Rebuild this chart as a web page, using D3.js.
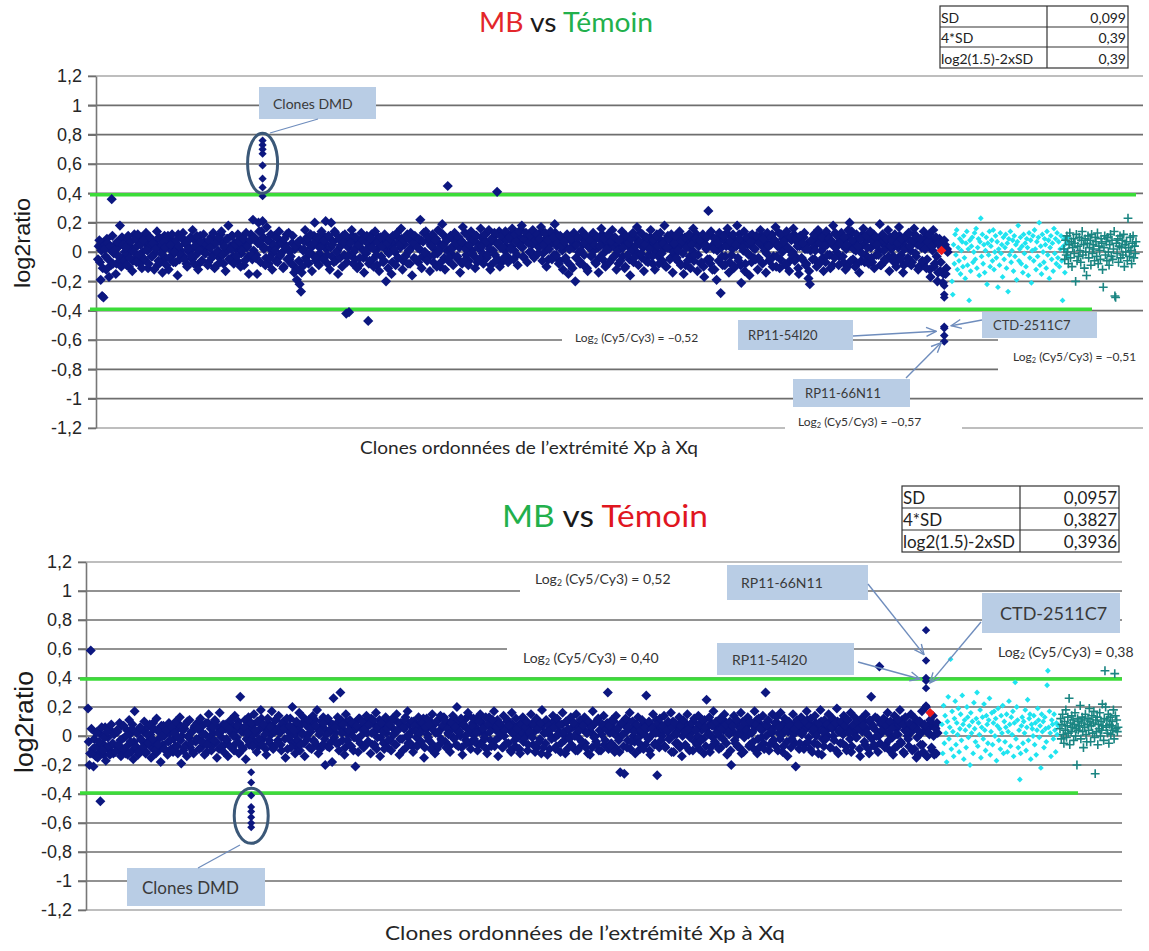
<!DOCTYPE html>
<html>
<head>
<meta charset="utf-8">
<script src="https://cdn.jsdelivr.net/npm/d3@7"></script>
<style>
  body { margin: 0; background: #fff; }
  svg { display: block; }
</style>
</head>
<body>
<svg id="chart" width="1149" height="951"></svg>
<script>
// ---------- shared ----------
const yTicks = [1.2, 1, 0.8, 0.6, 0.4, 0.2, 0, -0.2, -0.4, -0.6, -0.8, -1, -1.2];
const statLabels = ["SD", "4*SD", "log2(1.5)-2xSD"];

// ---------- MB vs Témoin (top) ----------
// spot A of each X clone, ordered Xp -> Xq
const topBlue = [
-.05,.08,-.19,-.30,-.31,.02,-.12,.06,-.17,.04,.36,-.08,.01,-.15,.07,-.03,.18,-.10,.05,-.06,
.03,-.09,.11,-.04,.07,-.13,.00,.09,-.07,.12,-.02,.05,-.11,.08,-.05,.13,.01,-.08,.10,-.03,
.06,-.12,.02,.14,-.06,.09,-.01,-.14,.07,.03,-.09,.11,-.04,.05,.12,-.07,.00,.08,-.16,.04,
-.02,.10,.13,-.05,.06,-.10,.02,.09,-.03,.15,-.08,.04,.11,-.12,.01,.07,-.06,.12,-.01,.05,
-.09,.08,.03,-.04,.13,-.11,.06,.00,.10,-.07,.14,-.02,.04,-.13,.09,.18,-.05,.02,.11,-.08,
.05,-.03,.12,.07,-.10,.01,.09,-.06,.13,.04,-.15,.08,-.02,.22,.10,-.04,-.15,.20,.06,.14,
.21,.02,-.09,.17,.08,-.04,.12,-.12,.05,.01,.10,-.07,.14,-.02,.06,-.11,.09,.03,-.05,.13,
.00,-.08,.11,-.14,.04,-.19,.07,-.22,-.27,-.10,.02,.15,-.06,.09,-.01,.12,-.13,.06,.20,-.04,
.10,-.09,.03,.14,-.05,.08,.21,-.02,.11,-.12,.20,.05,-.07,.13,.00,-.15,.09,.04,-.10,.07,
.12,-.42,-.03,-.41,.06,.15,-.08,.02,.10,-.11,.05,-.04,.13,.08,-.14,.01,.11,-.47,-.06,.09,
.03,-.10,.14,-.02,.07,-.13,.10,.04,-.07,.12,-.20,.06,-.01,.09,-.15,.11,.02,-.09,.13,-.04,
.05,.16,-.12,.08,-.03,.10,-.08,.01,.13,-.16,.06,.11,-.05,.03,.09,.22,-.11,.07,.00,.14,
-.06,.10,-.13,.04,.12,-.02,.08,-.10,.15,.01,-.07,.19,.05,-.12,.09,.45,-.04,.11,.02,-.09,
.13,.06,-.03,.10,-.14,.07,.17,-.06,.02,.12,-.09,.05,.14,-.01,.08,-.11,.11,.03,-.05,.16,
.04,-.08,.12,.07,-.02,.15,-.12,.09,.01,.13,-.06,.41,.06,-.10,.11,.03,-.04,.14,.08,-.07,
.10,.02,.16,-.05,.12,.07,-.09,.14,.04,.18,-.03,.09,.13,-.07,.06,.11,.00,.15,-.04,.08,
.12,-.01,.09,.17,-.06,.05,.13,-.10,.08,.02,.14,-.05,.10,.19,-.02,.06,-.08,.11,.04,-.12,
.07,-.04,.12,-.15,.02,.09,-.11,.13,-.20,.05,.10,-.06,.01,.14,-.09,.06,.11,-.13,.03,.08,
-.02,.13,.05,-.08,.10,-.14,.04,.16,-.05,.09,-.10,.02,.12,-.07,.07,.15,-.03,.10,-.12,.01,
.08,-.06,.14,.03,-.11,.11,-.02,.06,-.16,.09,.13,-.04,.04,.17,-.09,.07,-.01,.12,-.13,.05,
.10,-.07,.02,.15,-.03,.08,-.12,.11,.04,-.08,.13,-.01,.06,.18,-.10,.03,.09,-.05,.12,-.14,
.06,.11,-.04,.01,.14,-.09,.07,-.15,.10,.03,-.06,.12,-.11,.05,.16,-.02,.09,-.13,.04,.08,
-.07,.12,-.17,.05,.10,.28,-.05,.14,-.12,.02,.09,-.19,.06,.13,-.28,-.03,.11,-.09,.04,.16,
-.14,.07,-.02,.12,-.10,.05,.18,-.06,.09,-.21,.03,.14,-.08,.10,-.01,-.16,.07,.12,-.04,.02,
.11,-.12,.06,.15,-.07,.09,.01,-.14,.13,.04,-.05,.10,-.10,.08,.17,-.03,.05,-.11,.12,.00,
.07,-.08,.14,.03,-.13,.10,-.02,.16,-.06,.09,.04,-.15,.11,-.04,.06,.13,-.09,.02,-.18,-.22,
.08,-.05,.12,.01,-.10,.15,.06,-.07,.10,-.13,.04,.14,-.02,.09,-.11,.07,.18,-.04,.03,.11,
-.09,.06,.13,-.03,.10,-.12,.05,.15,.20,-.06,.08,.02,-.10,.12,.04,-.14,.09,-.01,.16,-.07,
.11,.03,-.08,.14,-.04,.07,-.11,.10,.05,-.02,.19,-.09,.12,.01,-.06,.09,.15,-.13,.04,.08,
-.03,.12,-.10,.06,.17,-.05,.09,-.14,.02,.11,-.07,.13,.04,-.09,.08,.16,-.01,.10,-.12,.05,
.09,-.06,.14,.02,-.11,.07,.12,-.17,.04,.15,-.08,.10,-.20,.06,-.13,.03,-.21,.08,-.15,.02
];
// spot B (duplicate spot) of the same clones
const topBlueDup = [
.04,-.07,.01,-.11,.06,-.03,.09,-.05,.02,-.09,.11,-.01,.05,-.08,.03,.07,-.04,.10,-.06,.00,
-.02,.08,-.10,.04,.01,-.06,.12,.03,-.04,.07,-.08,.10,.00,-.05,.06,.02,-.11,.09,.04,-.03,
.07,-.01,.05,-.09,.10,.03,-.06,.01,.11,-.04,.06,-.12,.02,.08,-.02,.05,-.07,.03,.12,-.05,
.01,.09,-.03,.06,-.08,.04,.00,.10,-.05,.03,.08,-.02,-.09,.05,.11,-.06,.02,.07,-.01,.04,
-.07,.03,.10,-.02,.05,-.10,.08,.01,-.04,.12,.06,-.08,.03,.00,.09,-.05,.04,.11,-.03,.06,
.02,-.06,.08,.04,-.01,.10,-.09,.05,.03,-.03,.07,.12,-.05,.01,.09,-.02,.06,.14,-.07,.04,
.10,.03,-.04,.08,-.08,.02,.06,-.01,.11,-.06,.04,.09,-.03,.07,.00,-.10,.05,.12,.02,-.05,
-.03,.06,-.09,.02,-.12,.04,-.06,.08,-.14,.01,.07,-.04,.10,-.08,.05,.03,-.02,.11,-.06,.09,
.04,-.01,.08,.12,-.05,.06,.02,-.08,.10,.03,-.03,.07,.14,-.06,.01,.09,-.04,.05,.11,-.02,
.06,-.07,.03,.09,-.02,.11,.00,-.05,.07,.04,-.09,.08,.02,-.04,.10,-.01,.06,-.08,.03,.12,
-.05,.07,.01,-.09,.10,.04,-.03,.08,-.06,.02,.05,-.11,.09,.03,-.07,.06,.00,.11,-.04,.07,
.03,.09,-.06,.05,-.02,.12,.01,-.08,.07,.04,-.04,.10,.06,-.07,.02,.08,-.03,.13,.00,-.05,
.08,-.03,.05,.11,-.07,.02,.09,-.01,.06,-.10,.04,.12,-.04,.07,.01,-.06,.10,.03,-.02,.08,
.05,.10,-.05,.03,.08,-.08,.06,.13,-.02,.04,-.06,.09,.01,.07,-.03,.11,-.07,.05,.02,.10,
-.01,.07,.12,-.04,.05,.02,-.09,.08,.10,-.02,.06,-.05,.14,.03,-.07,.09,.01,.04,-.03,.11,
.09,.04,.13,.01,.08,-.02,.11,.06,.15,.03,-.04,.10,.07,.12,.00,.09,.05,-.03,.13,.06,
.10,.03,.07,.14,-.01,.08,.12,.02,-.05,.09,.06,.11,-.02,.13,.04,.07,-.06,.10,.01,.08,
.04,-.06,.09,.02,-.09,.07,.03,.11,-.04,.06,.00,-.08,.10,.05,-.02,.08,-.11,.04,.09,-.03,
.06,.01,-.07,.10,.03,-.04,.08,.12,-.01,.05,-.09,.07,.02,.11,-.05,.04,.09,-.02,.06,-.08,
.02,.09,-.03,.06,-.10,.08,.04,-.05,.11,.01,-.07,.10,.05,-.01,.07,.13,-.04,.03,.08,-.06,
.07,-.02,.10,.04,-.08,.06,.01,.12,-.03,.09,.05,-.06,.02,.08,-.10,.11,.03,-.04,.07,.00,
-.04,.08,.03,-.07,.11,.05,-.01,.09,-.09,.04,.07,-.03,.10,.01,-.06,.08,.12,-.02,.05,-.08,
.06,-.10,.09,.02,-.05,.12,-.08,.04,.10,-.12,.07,.01,-.06,.11,.03,-.09,.08,-.03,.13,.05,
-.07,.10,.02,-.11,.08,.04,-.04,.12,-.09,.06,.01,-.13,.09,.05,-.02,.11,-.07,.03,.08,-.05,
.09,-.04,.06,.11,-.08,.03,.07,-.01,.10,-.06,.05,.12,-.03,.08,-.10,.04,.13,-.05,.02,.09,
.05,-.09,.11,.02,-.06,.08,.00,.12,-.03,.07,-.11,.04,.09,-.05,.10,.02,-.08,.06,-.13,.01,
.07,.03,-.05,.10,.06,-.08,.12,.01,-.04,.09,-.07,.05,.11,-.02,.08,-.09,.04,.13,.00,.06,
-.03,.10,.05,-.07,.08,.02,-.10,.11,.04,.14,-.05,.07,.01,-.08,.09,.03,-.06,.12,.05,-.02,
.08,-.04,.10,.03,-.07,.12,.05,-.02,.09,.01,-.09,.06,.11,-.05,.04,.08,-.03,.10,.02,-.06,
.05,.09,-.06,.03,.11,-.02,.07,-.09,.04,.10,-.04,.08,.01,-.07,.06,.12,-.03,.05,-.10,.09,
.03,-.08,.07,.10,-.05,.04,-.12,.08,.01,-.10,.06,-.03,-.14,.09,-.07,.02,-.15,.05,-.11,.00
];
const topDmd = [0.76, 0.73, 0.70, 0.67, 0.59, 0.50, 0.44, 0.38];
const topDmdAt = 120;
const topDmdRing = [0.40, 0.81];
const topCloneNames = ["CTD-2511C7", "RP11-54I20", "RP11-66N11"];
const topCloneValues = [-0.51, -0.52, -0.57];
const topClusterExtra = [-0.23, -0.29, -0.31, -0.61];
const topClusterAt = 617;
const topRed = [0.01];
const topRedAt = 615;
const topCyan = [
-.20,-.29,.05,-.08,.12,-.02,.15,-.12,.03,-.06,.09,-.15,.01,.07,-.10,
.11,-.04,-.18,.06,.14,-.09,.02,-.33,.08,-.13,.04,.10,-.07,.00,.13,
-.05,.16,-.11,.03,.09,-.16,.07,.23,-.03,.12,-.08,.05,-.14,.01,.10,
-.22,.06,-.02,.14,-.10,.04,.08,-.06,.15,-.12,.00,.11,-.04,.07,-.24,
.02,-.09,.13,-.01,.05,-.17,.10,-.05,.03,.12,-.11,.06,-.27,.09,-.02,
.14,-.07,.01,.08,-.13,.11,-.03,.05,-.19,.07,.18,-.06,.02,.10,-.08,
.04,-.14,.12,-.01,.06,-.10,.09,.03,-.16,.13,-.04,.08,-.21,.01,.11,
-.06,.15,.02,-.12,.07,-.03,.10,.20,-.09,.04,-.15,.12,.00,-.07,.09,
.05,-.11,.14,-.02,.08,-.18,.03,.11,-.05,.06,-.13,.16,-.01,.09,-.08,
.13,-.04,.07,-.10,.02,.11,-.06,-.33,.04,.09,-.14,.01,.06,-.03,.10
];
const topTeal = [
.02,-.05,.08,-.02,.11,.00,-.08,.05,.13,-.04,
.07,-.10,.03,.09,-.01,.06,-.20,.12,-.06,.04,
-.03,.10,.01,-.07,.08,.14,-.02,.05,-.11,.09,
.00,-.16,.06,.11,-.04,.03,.08,-.09,.12,-.01,
.05,.02,-.06,.10,.07,-.03,.13,-.08,.04,.01,
-.05,.09,.06,-.12,-.24,.03,.11,-.02,.07,-.06,
.10,.00,-.09,.05,.12,-.03,.08,-.05,.02,.14,
-.30,-.31,.06,-.01,.09,-.07,.04,.11,-.04,.03,
.08,-.02,.12,-.10,.05,.00,.07,-.06,.23,.03,
-.03,.10,.01,-.08,.06,.11,-.04,.04,-.01,.07
];
const topStatValues = ["0,099", "0,39", "0,39"];
const topThreshold = 0.39;

// ---------- MB vs Témoin (bottom, dye swap) ----------
const bottomBlue = [
.19,-.20,.59,-.12,-.21,-.08,.02,-.15,-.04,-.45,.06,-.10,-.01,-.17,.03,-.07,-.13,.08,-.05,.01,
-.11,.04,-.06,.09,-.14,-.02,.07,-.09,.00,-.13,.11,-.04,.05,-.16,.17,-.07,.02,-.11,.06,-.03,
-.08,.10,-.12,.01,-.05,.08,-.15,-.02,.05,-.10,.12,-.06,.03,-.18,.00,.07,-.09,.04,-.13,.09,
-.03,.06,-.11,.02,.10,-.07,-.01,.13,-.19,.04,-.08,.08,-.14,.00,.11,-.05,.03,-.12,.07,-.02,
.05,-.09,.12,-.04,.01,-.13,.09,-.06,.15,-.01,-.10,.06,-.03,.10,-.15,.02,.16,-.07,.04,-.11,
.08,-.02,-.14,.05,.11,-.08,.00,.14,-.05,.07,-.12,.27,.03,-.09,.06,-.16,.02,.13,-.04,.09,
-.07,.15,.04,-.11,.10,-.02,.18,-.06,.08,.01,-.13,.12,-.03,.06,.17,-.09,.03,.11,-.05,.14,
.02,-.10,.09,.05,-.15,.12,-.01,.07,-.08,.20,.04,-.12,.10,-.03,.16,-.06,.01,.13,-.14,.08,
-.02,.11,.05,-.09,.14,-.04,.07,.18,-.12,.03,.10,-.06,.09,-.20,.01,.12,-.08,.05,-.18,.26,
.06,-.05,.13,-.10,.30,.02,.08,-.13,.15,-.03,.04,.11,-.07,.09,-.01,-.21,.07,-.11,.12,.00,
.10,-.08,.05,.14,-.04,.08,-.12,.02,.11,-.06,.16,-.01,.07,-.14,.09,.03,-.09,.13,.05,-.03,
.08,-.10,.12,.01,-.06,.15,.04,-.13,.09,-.02,.06,.11,-.08,.17,.00,-.05,.10,-.11,.07,.03,
-.07,.13,.02,-.04,.09,-.15,.06,.12,-.01,.08,-.09,.15,.04,-.12,.10,.02,-.06,.14,-.03,.07,
.11,-.08,.05,.01,-.11,.09,.14,-.02,.06,.20,-.07,.03,.12,-.13,.08,.00,-.05,.16,.04,-.09,
.07,.12,-.04,.02,-.10,.10,.15,-.06,.05,-.01,.13,-.12,.08,.03,-.07,.11,.17,-.03,.06,-.14,
.09,.01,-.08,.14,.04,-.05,.11,.07,-.10,.16,.02,-.03,.12,.05,-.09,-.12,.08,.13,-.02,.06,
.10,-.06,.03,.15,-.01,.08,-.11,.12,.05,-.04,.09,.18,-.08,.02,.11,-.13,.07,.04,-.02,.14,
.06,-.09,.12,.01,.08,-.05,.16,.03,-.12,.10,.05,-.02,.13,-.07,.09,.00,.15,-.10,.04,.11,
-.04,.07,.13,-.08,.02,.10,-.13,.06,.17,-.01,.09,-.06,.12,.04,-.10,.08,.14,-.03,.05,.30,
.07,-.07,.11,.02,-.11,.14,.05,-.03,-.25,.09,.01,-.26,.12,-.08,.06,.16,-.04,.10,.03,-.12,
.08,.13,-.05,.04,.11,-.09,.06,.28,-.01,.10,-.13,.05,.15,-.06,.02,-.27,.09,.12,-.03,.07,
.14,-.08,.04,.10,-.02,.16,.06,-.11,.09,.01,-.05,.13,.07,-.14,.11,.03,-.07,.15,.05,-.01,
.09,-.10,.12,.04,-.06,.14,.08,-.03,.11,-.12,.06,.25,.01,.13,-.08,.07,.17,-.04,.10,.02,
-.09,.12,.05,-.02,.15,.08,-.13,.03,.10,-.20,.07,.14,-.05,.11,.01,-.08,.16,.06,-.11,.09,
.04,.13,-.07,.10,.02,-.04,.17,.08,-.12,.12,.05,-.01,.14,-.09,.30,.07,.11,-.06,.03,.15,
-.03,.09,.13,-.10,.06,.16,.01,-.07,.12,.04,-.14,.10,.07,-.02,.15,.05,-.21,.11,.08,-.05,
.13,.02,-.09,.10,.17,-.04,.07,.12,-.11,.05,.14,.00,-.06,.09,.18,-.13,.03,.11,-.02,.08,
.15,-.08,.06,.12,-.03,.09,.19,-.12,.04,.10,-.05,.14,.07,-.10,.11,.02,.16,-.07,.08,.13,
-.01,.10,.05,-.14,.12,.07,-.04,.15,.02,-.09,.11,.27,.06,-.06,.13,.00,-.11,.48,.09,.04,
.12,-.08,.07,.16,-.03,.10,.05,-.13,.14,.01,-.07,.11,.18,-.05,.08,-.12,.13,.03,-.02,.09,
.15,-.10,.06,.12,-.15,.04,.10,-.06,.17,-.11,.08,.20,-.14,.02,.11,-.08,.14,-.13,.05,.09
];
const bottomBlueDup = [
-.04,-.12,.05,-.09,-.02,-.14,.03,-.07,-.11,.01,-.05,-.13,.06,-.08,-.01,-.10,.04,-.06,-.12,.02,
-.07,.03,-.10,-.03,.07,-.09,-.01,-.12,.04,-.06,.01,-.11,.08,-.04,-.08,.02,-.13,.05,-.02,-.09,
.03,-.06,-.11,.06,-.03,.01,-.08,.09,-.05,-.12,.04,-.02,-.09,.07,-.06,.00,-.10,.05,-.04,.02,
-.09,.06,-.02,-.07,.04,-.12,.08,-.03,.00,-.10,.05,-.06,.10,-.01,-.08,.03,-.11,.06,-.04,.09,
-.02,.04,-.08,.07,-.05,.01,-.11,.09,-.03,.05,-.07,.02,.11,-.04,.06,-.09,.03,-.01,.08,-.06,
.05,-.03,.09,-.07,.02,.07,-.10,.04,-.01,.10,-.05,.06,-.08,.03,.11,-.02,.07,-.06,.04,.00,
.08,-.04,.02,.10,-.07,.05,.12,-.02,.06,-.09,.03,.09,-.05,.01,.07,-.08,.11,.04,-.03,.06,
-.06,.05,.10,-.02,.07,-.09,.03,.12,-.04,.06,.01,-.07,.09,.04,-.10,.08,.02,-.05,.11,.00,
.06,-.08,.03,.09,-.03,.11,-.06,.05,.01,-.09,.07,.13,-.02,.04,-.07,.10,.03,-.04,.08,-.01,
.02,.09,-.05,.06,.11,-.03,.04,-.08,.10,.01,-.06,.07,.03,-.10,.09,.05,-.02,.12,-.05,.06,
.04,-.07,.10,.02,-.04,.08,.12,-.06,.03,.07,-.09,.05,.11,-.01,.06,-.05,.09,.02,-.08,.10,
-.03,.06,.01,.11,-.06,.04,.09,-.02,.07,-.10,.05,.13,.00,-.05,.08,.03,-.07,.10,.04,-.01,
.07,-.05,.03,.09,.12,-.08,.05,.01,-.03,.10,.06,-.06,.08,.02,-.09,.11,.04,-.02,.07,.13,
-.04,.08,.02,-.07,.10,.05,-.01,.12,-.06,.03,.09,.00,-.08,.07,.11,-.03,.05,.14,-.05,.02,
.09,-.02,.06,.12,-.06,.03,.10,-.04,.07,.01,-.09,.08,.13,-.03,.05,.10,-.07,.04,.11,-.01,
.03,.07,-.08,.00,.05,.10,-.05,.04,-.11,.08,.01,-.07,.06,-.01,-.09,.09,.02,-.04,.05,.00,
-.10,.06,.01,.08,-.06,.03,.11,-.08,.05,-.02,-.12,.07,.02,-.05,.09,.04,-.09,.00,.06,.10,
-.01,-.07,.07,.03,-.11,.08,.01,-.03,.10,-.09,.04,.00,-.06,.06,.09,-.10,.02,.07,-.02,-.07,
.05,.09,-.05,.02,-.12,.07,.03,-.08,.08,.00,-.04,.11,-.10,.04,.01,.07,-.06,.05,.09,-.09,
.02,-.05,.06,.10,-.08,.04,-.01,-.11,.08,.01,-.07,.07,.03,-.03,.10,-.09,.05,.00,-.04,.08,
.04,-.01,-.09,.07,.02,.09,-.06,.05,-.02,-.10,.08,.01,.06,-.05,.11,.03,-.08,.07,.00,.04,
-.07,.08,.03,-.02,.06,-.11,.10,.01,-.05,.07,.04,-.08,.09,.00,.05,-.06,.08,.02,-.10,.06,
.03,.10,-.04,.05,.00,-.09,.08,.04,-.02,.11,-.07,.06,.02,-.11,.09,-.01,.07,-.05,.03,.08,
.00,-.08,.07,.04,.10,-.05,.05,.01,-.10,.08,.03,-.03,.09,-.07,.06,.02,-.12,.10,-.01,.05,
.07,.01,-.06,.09,.03,-.09,.06,.11,-.02,-.08,.08,.04,-.05,.07,.00,.10,-.10,.05,.02,-.03,
.06,-.07,.09,.02,-.02,.07,-.11,.04,.10,-.04,.03,.08,-.08,.06,.01,-.05,.09,.04,-.09,.07,
.01,.08,-.06,.05,.11,-.01,-.09,.07,.03,-.05,.09,.02,-.12,.06,.10,-.02,-.07,.08,.04,.00,
.09,-.08,.05,.00,.07,-.10,.10,.03,-.05,.08,.01,.06,-.07,.11,.04,-.02,-.11,.07,.02,.09,
-.01,.06,-.09,.08,.03,.10,-.06,.05,.01,-.12,.09,-.02,.07,-.07,.04,.12,.00,-.05,.08,.03,
.07,-.06,.10,.02,-.10,.06,-.01,.09,-.08,.05,.01,.08,-.04,.11,-.11,.04,.07,.00,-.07,.06,
.03,.08,-.09,.06,-.01,-.13,.10,.02,-.06,.07,.04,-.14,.05,.01,.09,-.10,.00,.06,-.12,.02
];
const bottomDmd = [-0.25, -0.32, -0.41, -0.49, -0.52, -0.56, -0.60, -0.63];
const bottomDmdAt = 119;
const bottomDmdRing = [-0.36, -0.74];
const bottomCloneNames = ["RP11-66N11", "RP11-54I20", "CTD-2511C7"];
const bottomCloneValues = [0.52, 0.40, 0.38];
const bottomClusterExtra = [0.73, 0.33, 0.21];
const bottomClusterAt = 611;
const bottomRed = [0.16];
const bottomRedAt = 614;
const bottomCyan = [
.08,-.12,.21,-.05,.14,.02,-.18,.10,.27,-.02,.06,.53,-.09,.17,.03,
-.14,.12,.24,-.06,.09,.01,.19,-.11,.05,.15,-.03,.28,.08,-.16,.11,
.04,-.08,.20,.13,-.01,.07,-.20,.16,.02,.10,-.12,.23,.05,-.04,.12,
.30,-.07,.09,.01,.18,-.15,.06,.13,-.02,.22,.04,-.10,.14,.08,-.05,
.11,.26,-.13,.03,.16,-.06,.09,.17,.00,.12,-.17,.07,.19,-.03,.05,
-.09,.14,.02,.21,-.12,.10,-.04,.06,.15,-.11,.03,.24,.08,-.07,.13,
.01,.17,-.14,.09,.37,-.02,.20,.11,-.08,.04,-.30,-.12,.07,.13,-.05,
.10,.02,.18,-.10,.06,.25,-.03,.12,.15,-.16,.08,.05,.00,.14,-.06,
.09,-.13,.04,.19,.11,-.01,.07,-.22,.15,.03,.10,-.08,.13,.05,-.04,
.35,.45,.06,.17,.02,-.14,.11,.08,-.02,.15,.04,-.11,.09,.01,.07
];
const bottomTeal = [
.05,.12,-.02,.08,.15,.01,-.05,.10,.04,.18,
-.01,.07,.13,.02,.26,-.06,.09,.03,.14,.06,
.11,-.03,.08,.16,.00,.05,-.20,.12,.04,.10,
.07,.21,-.02,.09,.13,.03,-.08,.11,.06,.15,
.01,-.04,.08,.12,.04,.19,.10,-.04,.07,.14,
.02,.09,.17,-.01,-.26,.11,.03,.13,-.06,.08,
.05,.16,.00,.10,.04,.22,.07,-.03,.12,.45,
.20,.06,.11,.02,.15,-.05,.08,.13,.01,.07,
.10,.04,.18,-.02,.43,.14,.05,.11,.03,.06
];
const bottomStatValues = ["0,0957", "0,3827", "0,3936"];
const bottomThreshold = 0.3936;

// ---------- drawing ----------
const svg = d3.select("#chart");
const NAVY = "#0c1780", CYAN = "#20e4f0", TEAL = "#1a8582", RED = "#f01c1c";
const GREEN = "#3bdc38", BOX = "#b9cde5", ARROW = "#6f8dbd", RING = "#3b5878";
const SANS = "'Liberation Sans', Arial, sans-serif";
const HUMAN = "Lato, 'Open Sans', sans-serif";

const comma = s => s.replace(".", ",");
const tickFmt = v => comma(String(+v.toFixed(1)));
const ratioFmt = v => comma(d3.format(".2f")(v));

// square diamond (rotated square) as used by spreadsheet markers
const diamondShape = {
  draw(ctx, size) {
    const r = Math.sqrt(size / 2);
    ctx.moveTo(0, -r); ctx.lineTo(r, 0); ctx.lineTo(0, r); ctx.lineTo(-r, 0); ctx.closePath();
  }
};
const plusShape = {
  draw(ctx, size) {
    const r = Math.sqrt(size) / 2;
    ctx.moveTo(-r, 0); ctx.lineTo(r, 0); ctx.moveTo(0, -r); ctx.lineTo(0, r);
  }
};
const diamond = r => d3.symbol().type(diamondShape).size(2 * r * r)();
const plus = r => d3.symbol().type(plusShape).size(4 * r * r)();

const defs = svg.append("defs");
defs.append("marker").attr("id", "openArrow")
  .attr("viewBox", "0 0 12 12").attr("refX", 11).attr("refY", 6)
  .attr("markerWidth", 12).attr("markerHeight", 12)
  .attr("markerUnits", "userSpaceOnUse").attr("orient", "auto")
  .append("path").attr("d", "M1,1.5 L11,6 L1,10.5")
  .attr("fill", "none").attr("stroke", ARROW).attr("stroke-width", 1.4);

function ratioLabel(sel, value, x, y, fs) {
  const t = sel.append("text").attr("x", x).attr("y", y)
    .attr("font-family", HUMAN).attr("font-size", fs).attr("fill", "#333");
  t.append("tspan").text("Log");
  t.append("tspan").attr("font-size", fs * 0.62).attr("dy", 2).text("2");
  t.append("tspan").attr("dy", -2).text(" (Cy5/Cy3) = " + ratioFmt(value));
}

function drawTable(t, values) {
  const g = svg.append("g");
  const rows = t.rows;
  g.append("rect").attr("x", t.x0).attr("y", rows[0]).attr("width", t.x1 - t.x0)
    .attr("height", rows[rows.length - 1] - rows[0]).attr("fill", "#fff")
    .attr("stroke", "#333").attr("stroke-width", 1.2);
  g.append("line").attr("x1", t.xm).attr("x2", t.xm).attr("y1", rows[0]).attr("y2", rows[rows.length - 1])
    .attr("stroke", "#333").attr("stroke-width", 1.2);
  rows.slice(1, -1).forEach(ry => g.append("line").attr("x1", t.x0).attr("x2", t.x1)
    .attr("y1", ry).attr("y2", ry).attr("stroke", "#333").attr("stroke-width", 1.2));
  statLabels.forEach((lab, i) => {
    const base = rows[i + 1] - 4;
    g.append("text").attr("x", t.x0 + 1).attr("y", base).text(lab)
      .attr("font-family", HUMAN).attr("font-size", t.fs).attr("fill", "#222");
    g.append("text").attr("x", t.x1 - 2).attr("y", base).attr("text-anchor", "end").text(values[i])
      .attr("font-family", HUMAN).attr("font-size", t.fs).attr("fill", "#222");
  });
}

function drawPanel(p) {
  const g = svg.append("g");
  const y = d3.scaleLinear().domain([-1.2, 1.2]).range([p.yBottom, p.yTop]);
  const xBlue = d3.scaleLinear().domain([0, p.blue.length - 1]).range(p.blueSpan);
  const xCyan = d3.scaleLinear().domain([0, p.cyan.length - 1]).range(p.cyanSpan);
  const xTeal = d3.scaleLinear().domain([0, p.teal.length - 1]).range(p.tealSpan);

  // horizontal grid
  g.append("g").selectAll("line").data(yTicks).join("line")
    .attr("x1", p.left - 8).attr("x2", p.right)
    .attr("y1", d => y(d)).attr("y2", d => y(d))
    .attr("stroke", d => Math.abs(d) === 1.2 ? "#a8a8a8" : "#6e6e6e")
    .attr("stroke-width", 1.6);

  // value axis
  g.append("g").attr("transform", `translate(${p.left},0)`)
    .call(d3.axisLeft(y).tickValues(yTicks).tickSize(8).tickSizeOuter(0).tickPadding(p.pad).tickFormat(tickFmt))
    .call(a => a.select(".domain").attr("stroke", "#777").attr("stroke-width", 1.6))
    .call(a => a.selectAll(".tick line").attr("stroke", "#6e6e6e").attr("stroke-width", 1.6))
    .call(a => a.selectAll(".tick text").attr("font-family", SANS).attr("font-size", p.tickFs).attr("fill", "#262626"));

  // ±threshold lines
  g.append("g").selectAll("line")
    .data([[p.threshold, p.greenEnds[0]], [-p.threshold, p.greenEnds[1]]]).join("line")
    .attr("x1", p.left - 6).attr("x2", d => d[1])
    .attr("y1", d => y(d[0])).attr("y2", d => y(d[0]))
    .attr("stroke", GREEN).attr("stroke-width", 3.6);

  // callout backgrounds and boxes
  const ann = g.append("g");
  p.callouts.forEach(c => {
    ann.append("rect").attr("x", c.blank[0]).attr("y", c.blank[1])
      .attr("width", c.blank[2]).attr("height", c.blank[3]).attr("fill", "#fff");
  });
  const boxes = p.callouts.map((c, i) => ({ b: c.box, fs: c.fs, text: p.names[i] }))
    .concat([{ b: p.dmdBox.box, fs: p.dmdBox.fs, text: "Clones DMD" }]);
  boxes.forEach(bx => {
    ann.append("rect").attr("x", bx.b[0]).attr("y", bx.b[1]).attr("width", bx.b[2]).attr("height", bx.b[3])
      .attr("fill", BOX);
    ann.append("text").attr("x", bx.b[0] + bx.b[4]).attr("y", bx.b[1] + bx.b[3] / 2)
      .attr("dominant-baseline", "central").text(bx.text)
      .attr("font-family", HUMAN).attr("font-size", bx.fs).attr("fill", "#3a3a3a");
  });

  // clone markers: both spots of each clone
  const pts = g.append("g");
  const spot = diamond(p.r);
  pts.selectAll("path.dup").data(p.blueDup).join("path").attr("class", "dup")
    .attr("transform", (d, i) => `translate(${xBlue(i + 0.5)},${y(d)})`)
    .attr("d", spot).attr("fill", NAVY);
  pts.selectAll("path.blue").data(p.blue).join("path").attr("class", "blue")
    .attr("transform", (d, i) => `translate(${xBlue(i)},${y(d)})`)
    .attr("d", spot).attr("fill", NAVY);
  pts.selectAll("path.dmd").data(p.dmd).join("path").attr("class", "dmd")
    .attr("transform", d => `translate(${xBlue(p.dmdAt)},${y(d)})`)
    .attr("d", diamond(p.r - 1)).attr("fill", NAVY);
  pts.selectAll("path.cl").data(p.clusterExtra.concat(p.values)).join("path").attr("class", "cl")
    .attr("transform", d => `translate(${xBlue(p.clusterAt)},${y(d)})`)
    .attr("d", diamond(p.r - 0.8)).attr("fill", NAVY);
  pts.selectAll("path.cy").data(p.cyan).join("path").attr("class", "cy")
    .attr("transform", (d, i) => `translate(${xCyan(i)},${y(d)})`)
    .attr("d", diamond(2.9)).attr("fill", CYAN);
  pts.selectAll("path.tl").data(p.teal).join("path").attr("class", "tl")
    .attr("transform", (d, i) => `translate(${xTeal(i)},${y(d)})`)
    .attr("d", plus(4.4)).attr("fill", "none").attr("stroke", TEAL).attr("stroke-width", 1.6);
  pts.selectAll("path.red").data(p.red).join("path").attr("class", "red")
    .attr("transform", d => `translate(${xBlue(p.redAt)},${y(d)})`)
    .attr("d", diamond(p.r - 0.3)).attr("fill", RED);

  // DMD ring and its leader
  const rx = xBlue(p.dmdAt);
  const ry0 = y(p.ring[0]), ry1 = y(p.ring[1]);
  g.append("ellipse").attr("cx", rx).attr("cy", (ry0 + ry1) / 2)
    .attr("rx", p.ringRx).attr("ry", Math.abs(ry1 - ry0) / 2)
    .attr("fill", "none").attr("stroke", RING).attr("stroke-width", 3);
  g.append("line").attr("x1", p.dmdLeader[0]).attr("y1", p.dmdLeader[1])
    .attr("x2", p.dmdLeader[2]).attr("y2", p.dmdLeader[3])
    .attr("stroke", ARROW).attr("stroke-width", 1.3);

  // arrows to the named clones + ratio labels
  const cx = xBlue(p.clusterAt);
  p.callouts.forEach((c, i) => {
    g.append("line").attr("x1", c.from[0]).attr("y1", c.from[1])
      .attr("x2", cx + c.tip[0]).attr("y2", y(p.values[i]) + c.tip[1])
      .attr("stroke", ARROW).attr("stroke-width", 1.4).attr("marker-end", "url(#openArrow)");
    ratioLabel(g, p.values[i], c.label[0], c.label[1], p.labelFs);
  });

  // titles
  const title = g.append("text").attr("x", p.title.x).attr("y", p.title.y)
    .attr("font-family", HUMAN).attr("font-size", p.title.fs)
    .attr("textLength", p.title.w).attr("lengthAdjust", "spacingAndGlyphs");
  p.title.parts.forEach(([txt, col]) => title.append("tspan").attr("fill", col).text(txt));

  g.append("text").attr("transform", `translate(${p.yTitle.x},${p.yTitle.y}) rotate(-90)`)
    .attr("text-anchor", "middle").attr("dominant-baseline", "central")
    .attr("font-family", SANS).attr("font-size", p.yTitle.fs).attr("fill", "#1a1a1a")
    .attr("textLength", p.yTitle.w).attr("lengthAdjust", "spacingAndGlyphs")
    .text("log2ratio");

  g.append("text").attr("x", p.xTitle.x).attr("y", p.xTitle.y)
    .attr("font-family", HUMAN).attr("font-size", p.xTitle.fs).attr("fill", "#262626")
    .attr("textLength", p.xTitle.w).attr("lengthAdjust", "spacingAndGlyphs")
    .text("Clones ordonnées de l’extrémité Xp à Xq");
}

drawPanel({
  yTop: 76, yBottom: 428, left: 96, right: 1143, pad: 6, tickFs: 18,
  blue: topBlue, blueDup: topBlueDup, cyan: topCyan, teal: topTeal,
  blueSpan: [98, 947], cyanSpan: [952, 1068], tealSpan: [1064, 1136],
  r: 5.1,
  dmd: topDmd, dmdAt: topDmdAt, ring: topDmdRing, ringRx: 15,
  dmdLeader: [318, 119, 270, 133],
  dmdBox: { box: [259, 87, 117, 32, 14], fs: 14 },
  names: topCloneNames, values: topCloneValues,
  clusterExtra: topClusterExtra, clusterAt: topClusterAt,
  red: topRed, redAt: topRedAt,
  threshold: topThreshold, greenEnds: [1136, 1092],
  labelFs: 12,
  callouts: [
    { box: [982, 312, 115, 26, 11], fs: 13, from: [982, 320], tip: [7, -1], blank: [998, 339, 150, 33], label: [1013, 361] },
    { box: [738, 320, 115, 30, 10], fs: 13, from: [853, 336], tip: [-8, 3], blank: [562, 326, 176, 24], label: [575, 342] },
    { box: [793, 379, 117, 28, 12], fs: 13, from: [906, 378], tip: [-3, 7], blank: [785, 409, 177, 23], label: [798, 426] }
  ],
  title: { x: 479, y: 32, fs: 27, w: 174, parts: [["MB", "#e3262b"], [" vs ", "#1a1a1a"], ["Témoin", "#22b04c"]] },
  yTitle: { x: 22, y: 243, fs: 22, w: 90 },
  xTitle: { x: 360, y: 454, fs: 17, w: 338 }
});

drawPanel({
  yTop: 562, yBottom: 910, left: 86, right: 1122, pad: 6, tickFs: 18,
  blue: bottomBlue, blueDup: bottomBlueDup, cyan: bottomCyan, teal: bottomTeal,
  blueSpan: [88, 937], cyanSpan: [942, 1058], tealSpan: [1060, 1118],
  r: 5.0,
  dmd: bottomDmd, dmdAt: bottomDmdAt, ring: bottomDmdRing, ringRx: 17,
  dmdLeader: [198, 868, 240, 845],
  dmdBox: { box: [127, 868, 138, 38, 15], fs: 17 },
  names: bottomCloneNames, values: bottomCloneValues,
  clusterExtra: bottomClusterExtra, clusterAt: bottomClusterAt,
  red: bottomRed, redAt: bottomRedAt,
  threshold: bottomThreshold, greenEnds: [1122, 1078],
  labelFs: 14,
  callouts: [
    { box: [727, 565, 141, 35, 14], fs: 14, from: [868, 584], tip: [-2, -6], blank: [520, 568, 207, 28], label: [535, 584] },
    { box: [717, 643, 137, 32, 15], fs: 14, from: [858, 662], tip: [-6, 1], blank: [507, 643, 210, 28], label: [523, 663] },
    { box: [982, 593, 138, 40, 18], fs: 18, from: [981, 622], tip: [4, 2], blank: [982, 637, 167, 28], label: [998, 657] }
  ],
  title: { x: 502, y: 527, fs: 31, w: 206, parts: [["MB", "#22b04c"], [" vs ", "#1a1a1a"], ["Témoin", "#e0161f"]] },
  yTitle: { x: 24, y: 722, fs: 25, w: 102 },
  xTitle: { x: 385, y: 940, fs: 20, w: 400 }
});

drawTable({ x0: 940, x1: 1128, xm: 1047, rows: [6, 27, 47, 68], fs: 14 }, topStatValues);
drawTable({ x0: 902, x1: 1119, xm: 1020, rows: [486, 508, 530, 552], fs: 17 }, bottomStatValues);
</script>
</body>
</html>
